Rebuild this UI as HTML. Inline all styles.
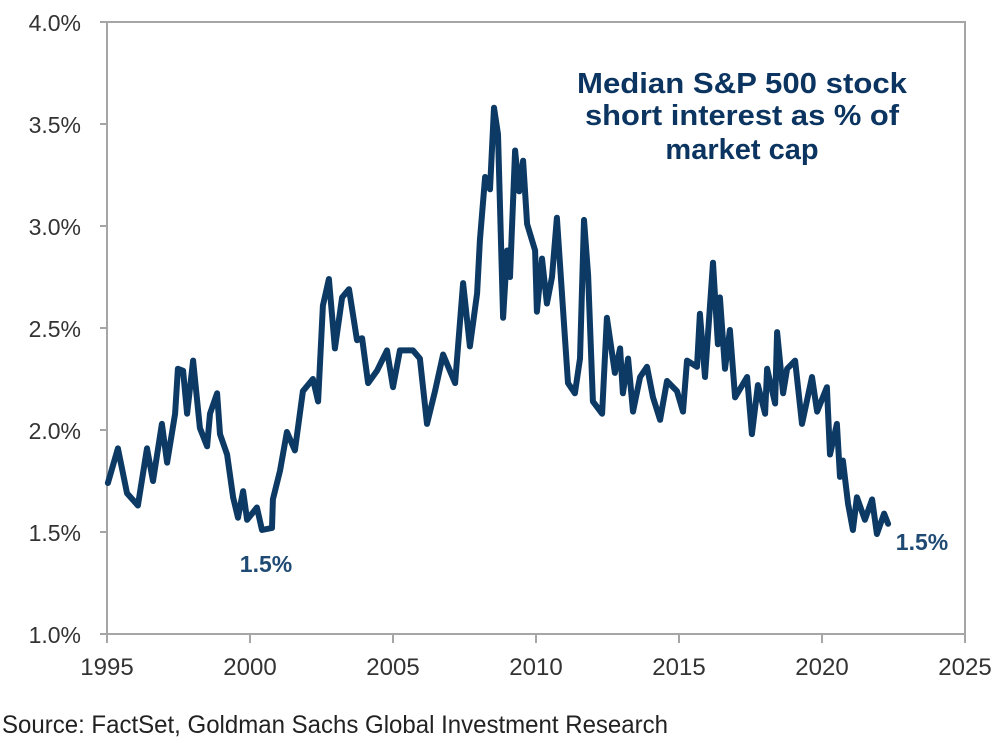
<!DOCTYPE html>
<html><head><meta charset="utf-8"><style>
html,body{margin:0;padding:0;background:#fff;}
svg{display:block;font-family:"Liberation Sans",Arial,sans-serif;}
</style></head><body>
<svg id="chart" width="1008" height="737" viewBox="0 0 1008 737">
<g id="axes"></g>
<path id="line" fill="none" stroke="#0c3a64" stroke-width="6" stroke-linejoin="round" stroke-linecap="round"/>
<g fill="#0b3560" font-weight="bold" font-size="29" text-anchor="middle">
<text x="742" y="93" textLength="330" lengthAdjust="spacingAndGlyphs">Median  S&amp;P 500 stock</text>
<text x="742" y="125" textLength="314" lengthAdjust="spacingAndGlyphs">short interest  as % of</text>
<text x="742" y="159">market cap</text>
</g>
<text x="266" y="572" text-anchor="middle" font-weight="bold" font-size="23" fill="#1f4a73">1.5%</text>
<text x="922" y="550" text-anchor="middle" font-weight="bold" font-size="23" fill="#1f4a73">1.5%</text>
<text x="2" y="733" font-size="25" fill="#222" textLength="666" lengthAdjust="spacingAndGlyphs">Source: FactSet, Goldman Sachs Global Investment Research</text>
</svg>
<script>
const years=[1995.03,1995.38,1995.70,1996.08,1996.40,1996.61,1996.92,1997.10,1997.38,1997.48,1997.66,1997.80,1998.01,1998.25,1998.50,1998.60,1998.85,1998.95,1999.20,1999.41,1999.58,1999.76,1999.90,2000.24,2000.42,2000.77,2000.80,2001.05,2001.29,2001.57,2001.85,2002.20,2002.38,2002.55,2002.76,2002.97,2003.22,2003.46,2003.74,2003.92,2004.13,2004.44,2004.79,2005.00,2005.24,2005.70,2005.94,2006.19,2006.47,2006.75,2007.17,2007.45,2007.69,2007.94,2008.04,2008.22,2008.39,2008.53,2008.67,2008.85,2008.99,2009.09,2009.27,2009.41,2009.55,2009.69,2009.97,2010.03,2010.21,2010.38,2010.56,2010.73,2010.94,2011.12,2011.36,2011.54,2011.68,2011.82,2011.99,2012.31,2012.48,2012.76,2012.94,2013.04,2013.22,2013.39,2013.64,2013.88,2014.09,2014.34,2014.58,2014.93,2015.14,2015.28,2015.63,2015.73,2015.91,2016.19,2016.36,2016.43,2016.61,2016.78,2016.96,2017.38,2017.55,2017.76,2018.01,2018.08,2018.36,2018.43,2018.64,2018.78,2019.06,2019.30,2019.65,2019.83,2020.17,2020.28,2020.52,2020.63,2020.73,2020.91,2021.08,2021.22,2021.50,2021.75,2021.92,2022.17,2022.31];
const values=[1.74,1.91,1.69,1.63,1.91,1.75,2.03,1.84,2.08,2.30,2.29,2.08,2.34,2.01,1.92,2.08,2.18,1.98,1.88,1.67,1.57,1.70,1.56,1.62,1.51,1.52,1.66,1.80,1.99,1.90,2.19,2.25,2.14,2.61,2.74,2.40,2.65,2.69,2.44,2.45,2.23,2.29,2.39,2.21,2.39,2.39,2.35,2.03,2.19,2.37,2.23,2.72,2.41,2.67,2.93,3.24,3.18,3.58,3.45,2.55,2.88,2.75,3.37,3.17,3.32,3.01,2.88,2.58,2.84,2.62,2.75,3.04,2.60,2.23,2.18,2.35,3.03,2.76,2.14,2.08,2.55,2.28,2.40,2.18,2.35,2.09,2.26,2.31,2.16,2.05,2.24,2.19,2.09,2.34,2.31,2.57,2.26,2.82,2.42,2.65,2.30,2.49,2.16,2.26,1.98,2.22,2.08,2.30,2.13,2.48,2.18,2.30,2.34,2.03,2.26,2.09,2.21,1.88,2.03,1.77,1.85,1.64,1.51,1.67,1.56,1.66,1.49,1.59,1.54];
const yTicks=[1.0,1.5,2.0,2.5,3.0,3.5,4.0];
const yTickLabels=["1.0%","1.5%","2.0%","2.5%","3.0%","3.5%","4.0%"];
const xTicks=[1995,2000,2005,2010,2015,2020,2025];
const xTickLabels=["1995","2000","2005","2010","2015","2020","2025"];

const X0=107,X1=965,Y0=634,Y1=22;
function sx(y){return X0+(y-1995)/30*(X1-X0);}
function sy(v){return Y0-(v-1)/3*(Y0-Y1);}
const NS="http://www.w3.org/2000/svg";
const axes=document.getElementById('axes');
function mk(tag,attrs,parent){const e=document.createElementNS(NS,tag);for(const k in attrs)e.setAttribute(k,attrs[k]);parent.appendChild(e);return e;}
const grey="#a6a6a6";
const frame=mk('path',{d:`M${X0},${Y1}H${X1}V${Y0}H${X0}Z`,fill:'none',stroke:grey,'stroke-width':2},axes);


yTicks.forEach((t,i)=>{
  const tk=mk('line',{x1:X0-7,x2:X0,y1:sy(t),y2:sy(t),stroke:grey,'stroke-width':2},axes);
  
  
  const tx=mk('text',{x:81,y:sy(t)+9,'text-anchor':'end','font-size':23,fill:'#333'},axes);
  tx.textContent=yTickLabels[i];
  
  
});
xTicks.forEach((t,i)=>{
  const tk=mk('line',{x1:sx(t),x2:sx(t),y1:Y0,y2:Y0+9,stroke:grey,'stroke-width':2},axes);
  
  
  const tx=mk('text',{x:sx(t),y:Y0+41,'text-anchor':'middle','font-size':24,fill:'#333'},axes);
  tx.textContent=xTickLabels[i];
  
  
});
document.getElementById('line').setAttribute('d',years.map((y,i)=>(i?'L':'M')+sx(y).toFixed(1)+','+sy(values[i]).toFixed(1)).join(''));
</script>
</body></html>
